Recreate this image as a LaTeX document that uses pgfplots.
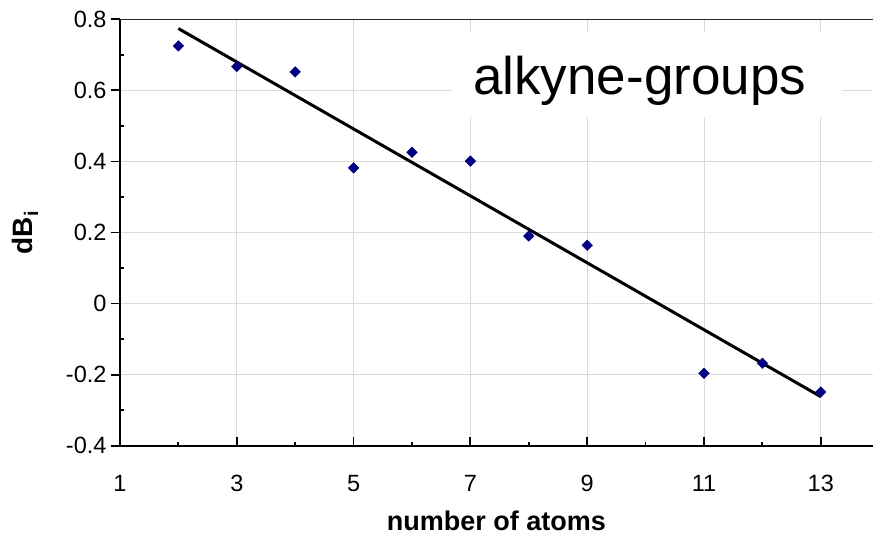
\documentclass[border=0pt]{standalone}
\usepackage{fontspec}
\setmainfont{Liberation Sans}
\usepackage{pgfplots}
\pgfplotsset{compat=1.18}
\definecolor{navymark}{RGB}{0,0,128}
\definecolor{gridgray}{RGB}{218,218,218}
\begin{document}
\begin{tikzpicture}[x=1pt,y=1pt]
\begin{axis}[
  at={(0,0)}, anchor=south west,
  scale only axis, width=753pt, height=426.4pt,
  xmin=1, xmax=13.894, ymin=-0.4, ymax=0.8,
  axis lines*=left,
  axis line style={line width=2.4pt, black},
  xtick={1,3,5,7,9,11,13},
  xticklabels={1,3,5,7,9,11,13},
  minor xtick={2,4,6,8,10,12},
  ytick={-0.4,-0.2,0,0.2,0.4,0.6,0.8},
  yticklabels={-0.4,-0.2,0,0.2,0.4,0.6,0.8},
  extra y ticks={-0.3,-0.1,0.1,0.3,0.5,0.7},
  extra y tick labels={},
  extra y tick style={tick align=inside, major tick length=4pt, grid=none},
  xtick align=inside, ytick align=outside,
  major tick length=9pt, minor tick length=4pt,
  tick style={line width=1.8pt, black},
  grid=major,
  major grid style={line width=0.8pt, gridgray},
  /pgf/number format/assume math mode=true,
  ticklabel style={font=\fontsize{23.5}{27}\selectfont},
  xticklabel style={anchor=base, yshift=-46pt},
  yticklabel style={xshift=-1pt},
  xlabel={number of atoms},
  xlabel style={font=\bfseries\fontsize{27}{30}\selectfont, at={(axis description cs:0.5,0)}, anchor=base, yshift=-84.3pt},
  ylabel={dB\textsubscript{i}},
  ylabel style={font=\bfseries\fontsize{28}{30}\selectfont, at={(axis description cs:-0.126,0.5)}, anchor=center},
]
\draw[line width=1.5pt, black!85] (rel axis cs:0,1) -- (rel axis cs:1,1);
\addplot[black, line width=3pt] coordinates {(2,0.774) (13,-0.262)};
\addplot[only marks, mark=square*, mark size=3.8pt,
  mark options={rotate=45, fill=navymark, draw=navymark, line width=0.3pt}]
  coordinates {(2,0.725) (3,0.667) (4,0.652) (5,0.382) (6,0.426) (7,0.401)
               (8,0.190) (9,0.164) (11,-0.196) (12,-0.168) (13,-0.249)};
\node[fill=white, inner sep=0pt, minimum width=390pt, minimum height=85pt] at (axis cs:10.02,0.645) {};
\node[anchor=base west, inner sep=0pt, font=\fontsize{53}{60}\selectfont] at (axis cs:7.045,0.587) {alkyne-groups};
\end{axis}
\pgfresetboundingbox
\useasboundingbox (-120,-95.3) rectangle (753,445.7);
\end{tikzpicture}
\end{document}
